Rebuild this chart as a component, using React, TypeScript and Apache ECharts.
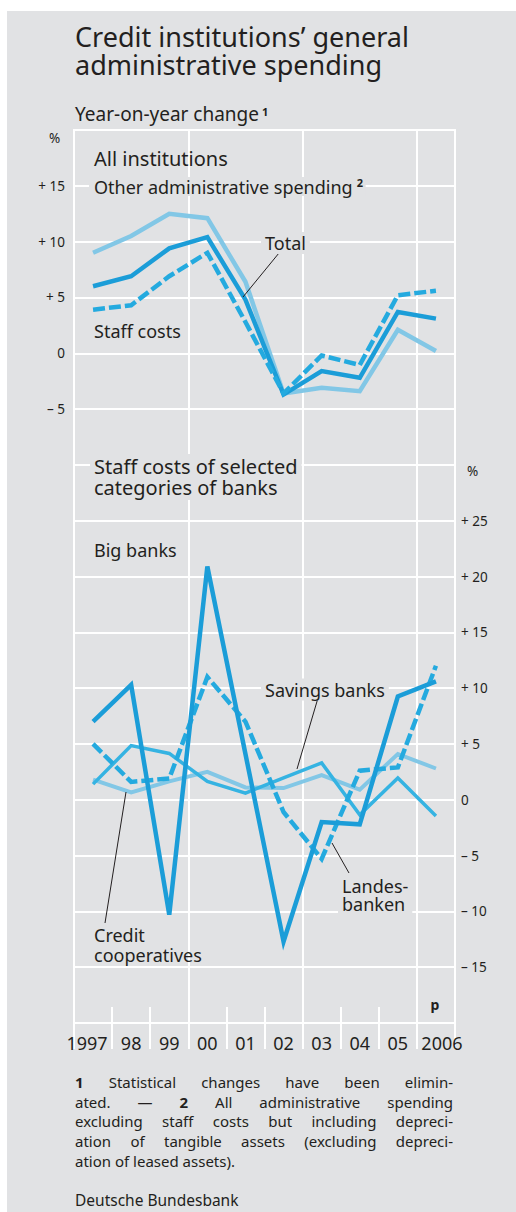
import React, { useEffect, useRef } from 'react';
import * as echarts from 'echarts';

// ---------- data ----------
const years = ['1997', '98', '99', '00', '01', '02', '03', '04', '05', '2006'];

// All institutions (left axis, % yoy)
const otherAdminSpending = [9.0, 10.5, 12.5, 12.1, 6.4, -3.6, -3.1, -3.4, 2.1, 0.2];
const totalSpending = [6.0, 6.9, 9.4, 10.4, 4.8, -3.7, -1.6, -2.2, 3.7, 3.1];
const staffCosts = [3.9, 4.3, 6.9, 9.0, 2.8, -3.6, -0.2, -1.05, 5.2, 5.6];

// Staff costs of selected categories of banks (right axis, % yoy)
const bigBanks = [7.0, 10.3, -10.3, 20.9, 4.1, -12.7, -2.0, -2.2, 9.25, 10.6];
const landesbanken = [5.0, 1.6, 1.9, 11.0, 7.0, -1.1, -5.3, 2.6, 2.9, 12.0];
const savingsBanks = [1.4, 4.85, 4.15, 1.65, 0.6, 1.95, 3.3, -1.35, 1.95, -1.45];
const creditCooperatives = [1.8, 0.65, 1.65, 2.5, 1.1, 1.05, 2.2, 0.9, 4.1, 2.8];

const leftTicks = [15, 10, 5, 0, -5];
const rightTicks = [25, 20, 15, 10, 5, 0, -5, -10, -15];

const footnoteLines: { words: [string, boolean][]; justify: boolean }[] = [
  { words: [['1', true], ['Statistical', false], ['changes', false], ['have', false], ['been', false], ['elimin-', false]], justify: true },
  { words: [['ated.', false], ['—', false], ['2', true], ['All', false], ['administrative', false], ['spending', false]], justify: true },
  { words: 'excluding staff costs but including depreci-'.split(' ').map((w) => [w, false] as [string, boolean]), justify: true },
  { words: 'ation of tangible assets (excluding depreci-'.split(' ').map((w) => [w, false] as [string, boolean]), justify: true },
  { words: 'ation of leased assets).'.split(' ').map((w) => [w, false] as [string, boolean]), justify: false },
];

// ---------- style ----------
const FF = '"Noto Sans", "Open Sans", sans-serif';
const INK = '#231f20';
const BG = '#e1e2e4';

const C_LIGHT = '#82c7e6';
const C_DARK = '#1b9dd8';
const C_DASH = '#24aadf';
const C_MID = '#35b3e2';

function measure(text: string, size: number, weight = 'normal') {
  const ctx = document.createElement('canvas').getContext('2d')!;
  ctx.font = `${weight} ${size}px "Noto Sans"`;
  return ctx.measureText(text).width;
}

function txt(x: number, y: number, text: string, size: number, opts: any = {}) {
  const align = opts.align || 'left';
  const dx = opts.bg ? (align === 'left' ? -4 : align === 'right' ? 4 : 0) : 0;
  const style: any = {
    text,
    fill: INK,
    fontSize: size,
    fontFamily: FF,
    fontWeight: opts.weight || 'normal',
    align,
    textAlign: align,
    verticalAlign: 'middle',
    textVerticalAlign: 'middle',
  };
  if (opts.lineHeight) style.lineHeight = opts.lineHeight;
  if (opts.bg) {
    style.backgroundColor = BG;
    style.padding = [2, 4];
  }
  return { type: 'text', x: x + dx, y, z: 100, style };
}

function leader(x1: number, y1: number, x2: number, y2: number) {
  return { type: 'line', z: 90, shape: { x1, y1, x2, y2 }, style: { stroke: INK, lineWidth: 1 } };
}

function signed(v: number) {
  if (v > 0) return '+ ' + v;
  if (v < 0) return '– ' + Math.abs(v);
  return '0';
}

function lineSeries(name: string, data: number[], yAxisIndex: number, color: string, width: number, dashed = false) {
  return {
    name,
    type: 'line',
    data,
    xAxisIndex: 0,
    yAxisIndex,
    symbol: 'none',
    silent: true,
    z: 5,
    lineStyle: { color, width, type: dashed ? [12, 4] : 'solid', cap: 'butt', join: 'miter' },
  };
}

function buildFootnotes() {
  const size = 15;
  const x0 = 75;
  const x1 = 453;
  const ys = [1082, 1101.5, 1121, 1141, 1160.5];
  const els: any[] = [];
  footnoteLines.forEach((ln, i) => {
    const widths = ln.words.map(([w, b]) => measure(w, size, b ? 'bold' : 'normal'));
    const sum = widths.reduce((a, b) => a + b, 0);
    const space = measure(' ', size);
    const gap = ln.justify ? Math.max(space, (x1 - x0 - sum) / (ln.words.length - 1)) : space;
    let x = x0;
    ln.words.forEach(([w, b], j) => {
      els.push(txt(x, ys[i], w, size, { weight: b ? 'bold' : 'normal' }));
      x += widths[j] + gap;
    });
  });
  els.push(txt(75, 1199.5, 'Deutsche Bundesbank', 15.5));
  return els;
}

export default function App() {
  const ref = useRef<HTMLDivElement>(null);

  useEffect(() => {
    const chart = echarts.init(ref.current!, undefined, { renderer: 'svg' });

    const subW = measure('Year-on-year change', 19);
    const otherW = measure('Other administrative spending', 18);

    const graphic: any[] = [
      // white page margin around the grey panel
      { type: 'rect', z: -1, shape: { x: 0, y: 0, width: 7, height: 1212 }, style: { fill: '#fff' } },
      { type: 'rect', z: -1, shape: { x: 0, y: 0, width: 516, height: 11 }, style: { fill: '#fff' } },
      txt(75, 50.5, 'Credit institutions’ general\nadministrative spending', 27, { lineHeight: 28.5 }),
      txt(75, 114, 'Year-on-year change', 19),
      txt(75 + subW + 3, 111.5, '1', 11, { weight: 'bold' }),
      txt(49, 137.5, '%', 13.5),
      txt(94, 158.5, 'All institutions', 20),
      // label box for "Other administrative spending 2"
      { type: 'rect', z: 95, shape: { x: 89, y: 177, width: otherW + 18, height: 19 }, style: { fill: BG } },
      txt(94, 187, 'Other administrative spending', 18),
      txt(94 + otherW + 4, 182.5, '2', 11, { weight: 'bold' }),
      txt(265, 243, 'Total', 18, { bg: true }),
      leader(279, 253, 243, 297),
      txt(94, 330.5, 'Staff costs', 18),
      // bottom panel
      txt(94, 477, 'Staff costs of selected\ncategories of banks', 20, { bg: true, lineHeight: 21 }),
      txt(467, 471, '%', 13.5),
      txt(94, 549.5, 'Big banks', 18),
      txt(265, 689.5, 'Savings banks', 18, { bg: true }),
      leader(318, 698, 297, 769),
      txt(342, 894.8, 'Landes-\nbanken', 18, { bg: true, lineHeight: 18.5 }),
      leader(349, 873, 332, 843),
      txt(94, 944.5, 'Credit\ncooperatives', 18, { lineHeight: 20 }),
      leader(105, 923, 126, 792),
      txt(435, 1004, 'p', 14, { weight: 'bold', align: 'center' }),
      ...buildFootnotes(),
    ];

    const labelStyle = { color: INK, fontSize: 18, fontFamily: FF };

    chart.setOption({
      animation: false,
      backgroundColor: BG,
      textStyle: { fontFamily: FF },
      grid: {
        left: 74,
        top: 130,
        width: 381,
        height: 893,
        show: true,
        borderColor: '#ffffff',
        borderWidth: 2,
        backgroundColor: 'transparent',
        containLabel: false,
      },
      xAxis: [
        {
          type: 'category',
          data: years,
          position: 'bottom',
          boundaryGap: true,
          axisLine: { show: false, onZero: false },
          axisTick: { show: true, inside: false, length: 26, interval: 0, lineStyle: { color: '#ffffff', width: 2 } },
          axisLabel: {
            interval: 0,
            margin: 11,
            ...labelStyle,
            formatter: (v: string) => (v === '1997' ? `{l|${v}}` : v === '2006' ? `{r|${v}}` : `{n|${v}}`),
            rich: {
              l: { ...labelStyle, padding: [0, 12, 0, 0] },
              r: { ...labelStyle, padding: [0, 0, 0, 12] },
              n: { ...labelStyle },
            },
          },
          splitLine: {
            show: true,
            interval: (i: number) => i % 3 === 0,
            lineStyle: { color: '#ffffff', width: 2 },
          },
        },
        {
          type: 'category',
          data: years,
          position: 'bottom',
          offset: 0,
          boundaryGap: true,
          axisLine: { show: false, onZero: false },
          axisTick: { show: true, inside: true, length: 16, interval: 0, lineStyle: { color: '#ffffff', width: 2 } },
          axisLabel: { show: false },
          splitLine: { show: false },
        },
      ],
      yAxis: [
        {
          type: 'value',
          position: 'left',
          min: -60,
          max: 20,
          interval: 5,
          axisLine: { show: false },
          axisTick: { show: false },
          axisLabel: {
            margin: 9,
            color: INK,
            fontSize: 13.5,
            fontFamily: FF,
            formatter: (v: number) => (leftTicks.includes(v) ? signed(v) : ''),
          },
          splitLine: { show: true, lineStyle: { color: '#ffffff', width: 2 } },
        },
        {
          type: 'value',
          position: 'right',
          min: -20,
          max: 60,
          interval: 5,
          axisLine: { show: false },
          axisTick: { show: false },
          axisLabel: {
            margin: 6,
            color: INK,
            fontSize: 13.5,
            fontFamily: FF,
            formatter: (v: number) => (rightTicks.includes(v) ? signed(v) : ''),
          },
          splitLine: { show: false },
        },
      ],
      series: [
        lineSeries('Other administrative spending', otherAdminSpending, 0, C_LIGHT, 4.5),
        lineSeries('Total', totalSpending, 0, C_DARK, 4.5),
        lineSeries('Staff costs', staffCosts, 0, C_DASH, 4.5, true),
        lineSeries('Credit cooperatives', creditCooperatives, 1, C_LIGHT, 4),
        lineSeries('Savings banks', savingsBanks, 1, C_MID, 3.5),
        lineSeries('Landesbanken', landesbanken, 1, C_DASH, 4.5, true),
        lineSeries('Big banks', bigBanks, 1, C_DARK, 4.5),
      ],
      graphic,
    });

    return () => chart.dispose();
  }, []);

  return (
    <div
      ref={ref}
      style={{ position: 'absolute', left: 0, top: 0, width: 516, height: 1212 }}
    />
  );
}
